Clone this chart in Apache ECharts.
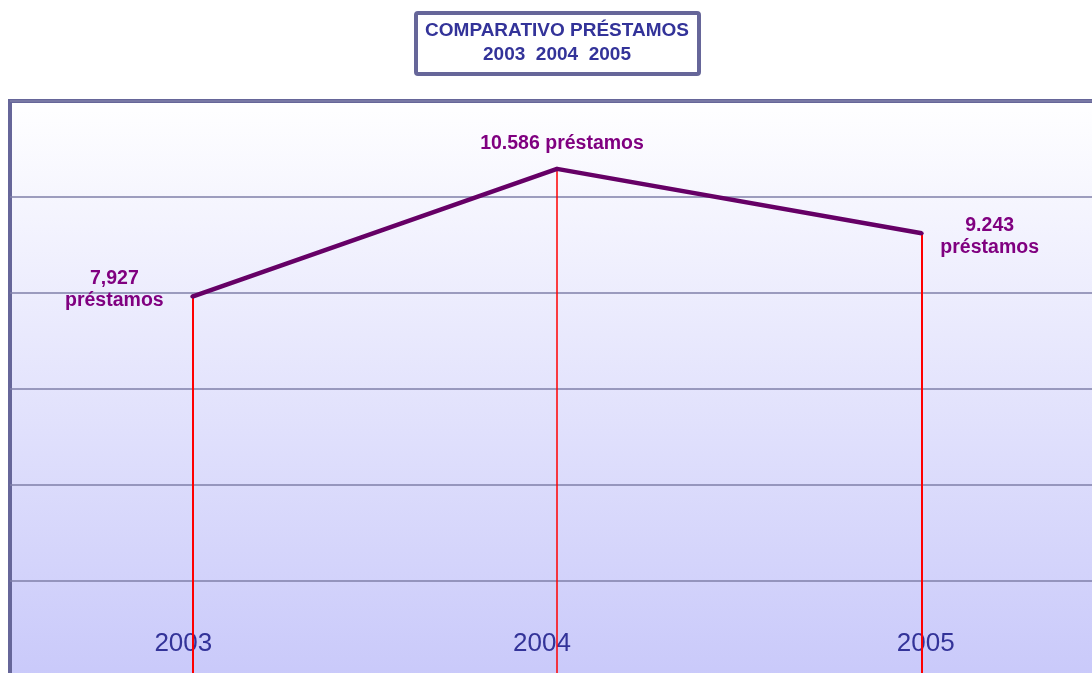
<!DOCTYPE html>
<html>
<head>
<meta charset="utf-8">
<script src="https://cdn.jsdelivr.net/npm/echarts@6/dist/echarts.min.js"></script>
<style>
  html, body { margin: 0; padding: 0; background: #ffffff; }
  #main { width: 1092px; height: 673px; }
</style>
</head>
<body>
<div id="main"></div>
<script>
  // datos
  var years = ['2003', '2004', '2005'];
  var prestamos = [7927, 10586, 9243];
  var labelTexts = ['7,927\npréstamos', '10.586 préstamos', '9.243\npréstamos'];
  var yMin = 0, yMax = 12000, yStep = 2000;

  var chart = echarts.init(document.getElementById('main'));

  // posiciones de etiquetas (por indice)
  var labelPos = [
    { position: 'left', align: 'center', distance: 76, offset: [0, -7] },
    { position: 'top', align: 'center', distance: 12, offset: [5, 0] },
    { position: 'right', align: 'center', distance: 66, offset: [0, 3] }
  ];
  var yearPadding = [[0, 18, 0, 0], [0, 30, 0, 0], [0, 0, 0, 8]];
  var dropWidths = [2, 1.5, 2];

  var seriesData = prestamos.map(function (v, i) {
    return { value: v, label: labelPos[i] };
  });
  var yearData = years.map(function (y, i) {
    return { value: y, textStyle: { padding: yearPadding[i] } };
  });
  // lineas rojas verticales (una serie lines-like por markLine)
  var drops = prestamos.map(function (v, i) {
    return [
      { coord: [i, v], lineStyle: { color: '#ff0000', opacity: 1, type: 'solid', width: dropWidths[i] } },
      { coord: [i, yMin] }
    ];
  });

  var option = {
    animation: false,
    backgroundColor: '#ffffff',
    grid: {
      show: true,
      left: 10, top: 101, width: 1094, height: 576,
      outerBoundsMode: 'none',
      containLabel: false,
      borderColor: '#666699',
      borderWidth: 4,
      backgroundColor: new echarts.graphic.LinearGradient(0, 0, 0, 1, [
        { offset: 0, color: '#ffffff' },
        { offset: 1, color: '#c9c9fa' }
      ])
    },
    graphic: [
      {
        type: 'rect',
        shape: { x: 416, y: 13, width: 283, height: 61, r: 2 },
        style: { fill: '#ffffff', stroke: '#666699', lineWidth: 4 },
        z: 10
      },
      {
        type: 'text',
        x: 557, y: 43,
        style: {
          text: 'COMPARATIVO PRÉSTAMOS\n2003  2004  2005',
          fill: '#333399',
          font: 'bold 19px "Liberation Sans", Arial, sans-serif',
          lineHeight: 24,
          align: 'center',
          verticalAlign: 'middle'
        },
        z: 11
      }
    ],
    xAxis: {
      type: 'category',
      data: yearData,
      boundaryGap: true,
      axisLine: { show: false },
      axisTick: { show: false },
      splitLine: { show: false },
      axisPointer: { show: false },
      axisLabel: {
        inside: true,
        margin: 20,
        color: '#333399',
        fontSize: 26,
        fontFamily: '"Liberation Sans", Arial, sans-serif'
      }
    },
    yAxis: {
      type: 'value',
      min: yMin, max: yMax, interval: yStep,
      axisLine: { show: false },
      axisTick: { show: false },
      axisLabel: { show: false },
      splitLine: { lineStyle: { color: '#7f7fa8', width: 1.5 } }
    },
    series: [{
      type: 'line',
      data: seriesData,
      symbol: 'circle',
      symbolSize: 4,
      itemStyle: { color: '#660066' },
      lineStyle: { color: '#660066', width: 4.5 },
      label: {
        show: true,
        color: '#800080',
        fontSize: 19.5,
        fontWeight: 'bold',
        fontFamily: '"Liberation Sans", Arial, sans-serif',
        lineHeight: 22,
        formatter: function (p) { return labelTexts[p.dataIndex]; }
      },
      markLine: {
        silent: true,
        symbol: 'none',
        z: 1,
        label: { show: false },
        emphasis: { disabled: true },
        lineStyle: { color: '#ff0000', type: 'solid' },
        data: drops
      }
    }]
  };

  option && chart.setOption(option);
</script>
</body>
</html>
